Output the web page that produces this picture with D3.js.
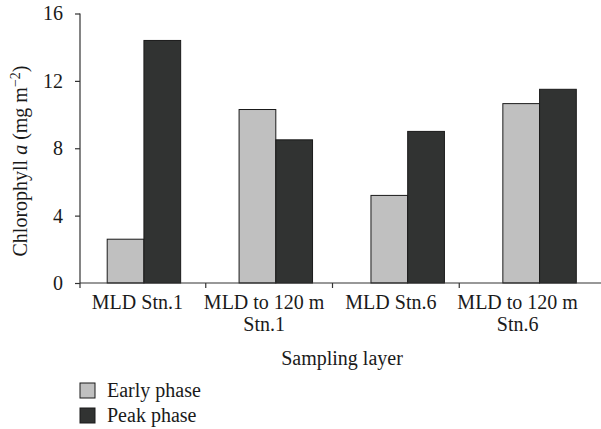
<!DOCTYPE html>
<html>
<head>
<meta charset="utf-8">
<script src="https://cdn.jsdelivr.net/npm/d3@7"></script>
<style>
  body { margin: 0; background: #fff; }
  svg text { font-family: "Liberation Serif", "DejaVu Serif", serif; fill: #1a1a1a; }
</style>
</head>
<body>
<div id="chart"></div>
<script>
const groups = ["MLD Stn.1", "MLD to 120 m Stn.1", "MLD Stn.6", "MLD to 120 m Stn.6"];
const group_lines = [["MLD Stn.1"], ["MLD to 120 m", "Stn.1"], ["MLD Stn.6"], ["MLD to 120 m", "Stn.6"]];
const series = ["Early phase", "Peak phase"];
const early = [2.6, 10.3, 5.2, 10.65];
const peak = [14.4, 8.5, 9.0, 11.5];
const y_ticks = [0, 4, 8, 12, 16];

const COLORS = ["#c0c0c0", "#313332"];

const W = 601, H = 429;
const font_size = 20;

const svg = d3.select("#chart").append("svg")
    .attr("width", W)
    .attr("height", H);

const y = d3.scaleLinear().domain([0, 16]).range([283, 13.5]);
const x0 = d3.scaleBand().domain(groups).range([79, 603.5])
    .paddingInner(0.443).paddingOuter(0.21);
const x1 = d3.scaleBand().domain(series).range([0, x0.bandwidth()]);
// category boundaries for the tick marks and labels
const xt = d3.scaleBand().domain(groups).range([79, 586]);

const values = series.map((s, i) => i == 0 ? early : peak);

// bars
series.forEach((s, si) => {
  svg.append("g").selectAll("rect")
      .data(values[si])
      .join("rect")
      .attr("x", (d, i) => x0(groups[i]) + x1(s) + 0.5)
      .attr("y", (d) => y(d))
      .attr("width", x1.bandwidth())
      .attr("height", (d) => y(0) - y(d))
      .attr("fill", COLORS[si])
      .attr("stroke", "#1a1a1a")
      .attr("stroke-width", 1);
});

// y axis
const yAxis = svg.append("g")
    .attr("transform", "translate(80,0)")
    .call(d3.axisLeft(y).tickValues(y_ticks).tickSize(5).tickPadding(12));
yAxis.select(".domain").attr("d", "M0," + y(16) + "V" + (y(0) + 5));
yAxis.selectAll("line, path").attr("stroke", "#333").attr("stroke-width", 1.2);
yAxis.selectAll("text")
    .style("font-family", "Liberation Serif, serif")
    .style("font-size", font_size + "px")
    .attr("fill", "#1a1a1a");

// x axis line
svg.append("line")
    .attr("x1", 80).attr("x2", W)
    .attr("y1", y(0)).attr("y2", y(0))
    .attr("stroke", "#333").attr("stroke-width", 1.2);

svg.append("g").selectAll("line")
    .data(groups.slice(1))
    .join("line")
    .attr("x1", (d) => xt(d)).attr("x2", (d) => xt(d))
    .attr("y1", y(0)).attr("y2", y(0) + 5)
    .attr("stroke", "#333").attr("stroke-width", 1.2);

// category labels
group_lines.forEach((lines, i) => {
  const cx = xt(groups[i]) + xt.bandwidth() / 2 - 5;
  lines.forEach((t, j) => {
    svg.append("text")
        .attr("x", cx)
        .attr("y", 309 + j * 22)
        .attr("text-anchor", "middle")
        .style("font-size", font_size + "px")
        .text(t);
  });
});

// axis titles
svg.append("text")
    .attr("x", 342)
    .attr("y", 365)
    .attr("text-anchor", "middle")
    .style("font-size", font_size + "px")
    .text("Sampling layer");

const ylab = svg.append("text")
    .attr("transform", "translate(27,161) rotate(-90)")
    .attr("text-anchor", "middle")
    .style("font-size", font_size + "px");
ylab.append("tspan").text("Chlorophyll ");
ylab.append("tspan").style("font-style", "italic").text("a");
ylab.append("tspan").text(" (mg m");
ylab.append("tspan").attr("dy", -7).style("font-size", "14px").text("\u22122");
ylab.append("tspan").attr("dy", 7).text(")");

// legend
const legend = svg.append("g").selectAll("g")
    .data(series)
    .join("g")
    .attr("transform", (d, i) => "translate(0," + (i * 25) + ")");
legend.append("rect")
    .attr("x", 80).attr("y", 383)
    .attr("width", 15).attr("height", 15)
    .attr("fill", (d, i) => COLORS[i])
    .attr("stroke", "#1a1a1a").attr("stroke-width", 1);
legend.append("text")
    .attr("x", 107).attr("y", 396.7)
    .style("font-size", font_size + "px")
    .text((d) => d);
</script>
</body>
</html>
